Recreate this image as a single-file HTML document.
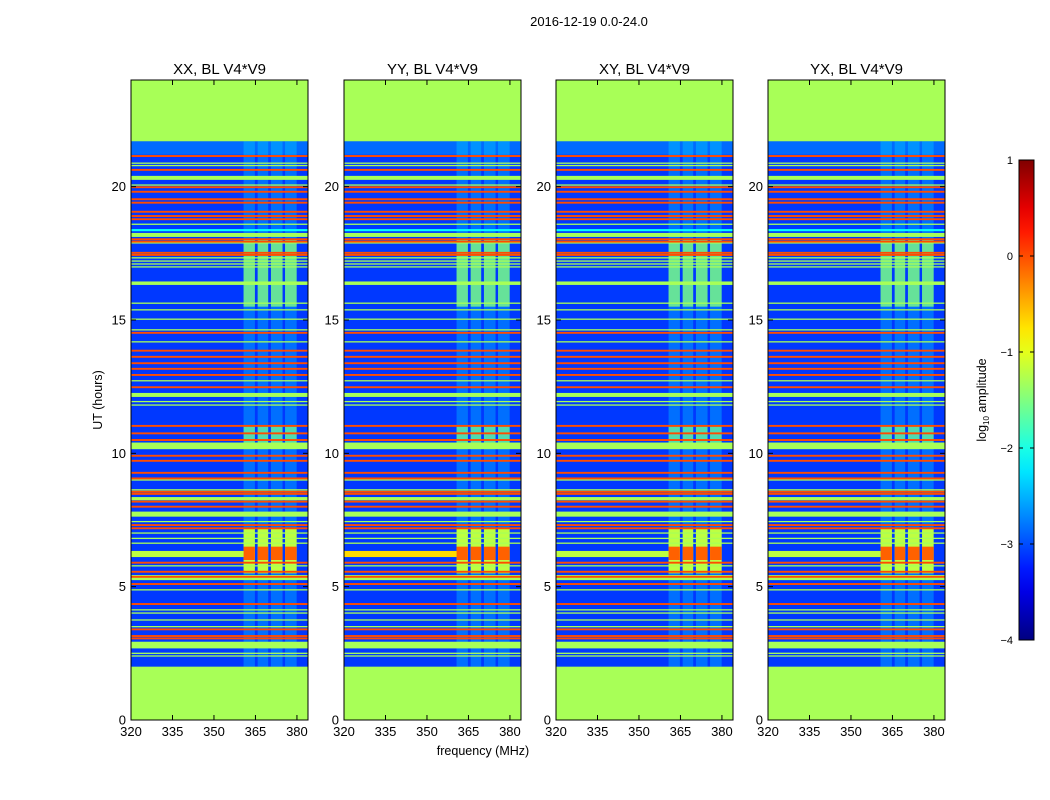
<!DOCTYPE html>
<html><head><meta charset="utf-8"><style>
html,body{margin:0;padding:0;background:#fff;}
svg{display:block;font-family:"Liberation Sans",sans-serif;}
</style></head><body>
<svg id="fig" width="1050" height="800" viewBox="0 0 1050 800">
<text x="589" y="26" font-size="13" text-anchor="middle">2016-12-19 0.0-24.0</text>
<text x="483" y="755" font-size="12.5" text-anchor="middle">frequency (MHz)</text>
<text x="102" y="400" font-size="12.5" text-anchor="middle" transform="rotate(-90 102 400)">UT (hours)</text>
<text x="986" y="400" font-size="12.5" text-anchor="middle" transform="rotate(-90 986 400)">log<tspan font-size="8" dy="3">10</tspan><tspan dy="-3"> amplitude</tspan></text>
<g id="panels"></g>
<g id="cbar"></g>
</svg>
<script>
const panelNames = ["XX, BL V4*V9","YY, BL V4*V9","XY, BL V4*V9","YX, BL V4*V9"];
const panelLeft = [131,344,556,768];
const band6Values = [-1.2,-0.7,-1.2,-1.2];
const xTicks = [320,335,350,365,380];
const yTicks = [0,5,10,15,20];
const cbTicks = [1,0,-1,-2,-3,-4];
const dataStart = 2.0, dataEnd = 21.7;
const backgroundValue = -3.1;
const orangeHours = [21.15,20.63,19.98,19.81,19.53,19.40,19.06,18.9,18.78,18.03,17.94,17.52,17.44,14.52,13.85,13.62,13.38,13.17,12.94,12.48,11.03,10.75,10.5,9.91,9.72,9.27,9.06,8.56,8.48,8.19,8.0,7.31,7.19,5.9,5.56,5.37,5.1,4.35,3.4,3.15,3.06];
const greenHours = [20.88,20.79,20.06,18.59,17.89,17.33,17.21,17.1,16.99,15.63,15.38,15.03,14.63,14.18,12.72,11.94,11.81,9.0,8.63,7.44,7.01,6.81,6.63,5.78,4.88,4.13,4.01,3.75,3.5,2.5,2.4];
const thickCenters = [20.33,18.19,18.37,16.38,12.19,10.28,8.3,7.72,5.34,2.81];
const thickHeights = [0.15,0.15,0.08,0.13,0.15,0.25,0.12,0.19,0.19,0.25];
const thickValues = [-1.3,-1.3,-2.1,-1.3,-1.3,-1.3,-1.3,-1.3,-1.3,-1.3];
const subbandStart = [360.7,365.8,370.6,375.7];
const subbandEnd = [364.8,369.6,374.8,379.9];
const blockStart = [2.0,5.5,6.0,10.3,15.5];
const blockEnd = [21.7,7.2,6.5,11.0,18.0];
const blockValues = [-2.2,-1.2,-0.1,-1.6,-1.5];
const blockOpacity = [0.3,1,1,0.75,0.8];

const NS="http://www.w3.org/2000/svg";
function jet(v){const t=Math.max(0,Math.min(1,(v+4)/5));const c=x=>Math.round(255*Math.max(0,Math.min(1,x)));
return `rgb(${c(1.5-Math.abs(4*t-3))},${c(1.5-Math.abs(4*t-2))},${c(1.5-Math.abs(4*t-1))})`;}
function mk(tag,attrs,parent){const e=document.createElementNS(NS,tag);for(const k in attrs)e.setAttribute(k,attrs[k]);parent.appendChild(e);return e;}
const axTop=80,axBottom=720,W=177;
const yS=h=>axBottom-(h/24)*(axBottom-axTop);
const panelsG=document.getElementById('panels');
panelNames.forEach((nm,i)=>{
  const L=panelLeft[i];
  const xS=f=>L+(f-320)/64*W;
  const g=mk('g',{},panelsG);
  
  
  const bg=mk('rect',{x:L,y:axTop,width:W,height:axBottom-axTop,fill:jet(-1.3)},g);
  
  
  const d=mk('rect',{x:L,y:yS(dataEnd),width:W,height:yS(dataStart)-yS(dataEnd),fill:jet(backgroundValue)},g);
  
  
  const nb=mk('rect',{x:L,y:yS(dataEnd),width:W,height:yS(21.2)-yS(dataEnd),fill:jet(-2.6),opacity:0.5},g);
  
  
  blockStart.forEach((bs,k)=>{subbandStart.forEach((fs,j)=>{
    const r=mk('rect',{x:xS(fs),y:yS(blockEnd[k]),width:xS(subbandEnd[j])-xS(fs),height:yS(bs)-yS(blockEnd[k]),fill:jet(blockValues[k]),opacity:blockOpacity[k]},g);
    
    
  });});
  thickCenters.forEach((c,k)=>{
    const r=mk('rect',{x:L,y:yS(c+thickHeights[k]/2),width:W,height:yS(c-thickHeights[k]/2)-yS(c+thickHeights[k]/2),fill:jet(thickValues[k])},g);
    
    
  });
  greenHours.forEach(h=>{
    const r=mk('rect',{x:L,y:yS(h+0.025),width:W,height:1.3,fill:jet(-1.3)},g);
    
    
  });
  orangeHours.forEach(h=>{
    const r=mk('rect',{x:L,y:yS(h+0.035),width:W,height:1.9,fill:jet(0)},g);
    
    
  });
  const b6=mk('rect',{x:L,y:yS(6.34),width:xS(360.7)-L,height:yS(6.11)-yS(6.34),fill:jet(band6Values[i])},g);
  
  
  const fr=mk('rect',{x:L,y:axTop,width:W,height:axBottom-axTop,fill:'none',stroke:'#000','stroke-width':1},g);
  
  
  const t=mk('text',{x:L+W/2,y:74,'font-size':15,'text-anchor':'middle'},g);t.textContent=nm;
  
  
  xTicks.forEach(v=>{const x=xS(v);
    mk('line',{x1:x,x2:x,y1:axBottom,y2:axBottom-5,stroke:'#000'},g);
    mk('line',{x1:x,x2:x,y1:axTop,y2:axTop+5,stroke:'#000'},g);
    const tl=mk('text',{x:x,y:axBottom+16,'font-size':13,'text-anchor':'middle'},g);tl.textContent=v;
    
    
  });
  yTicks.forEach(v=>{const y=yS(v);
    mk('line',{x1:L,x2:L+5,y1:y,y2:y,stroke:'#000'},g);
    mk('line',{x1:L+W,x2:L+W-5,y1:y,y2:y,stroke:'#000'},g);
    const tl=mk('text',{x:L-5,y:y+4.5,'font-size':13,'text-anchor':'end'},g);tl.textContent=v;
    
    
  });
});
const cb=document.getElementById('cbar');
const defs=mk('defs',{},cb);
const lg=mk('linearGradient',{id:'jetg',x1:0,y1:1,x2:0,y2:0},defs);
for(let k=0;k<=20;k++){mk('stop',{offset:k/20,'stop-color':jet(-4+5*k/20)},lg);}
const cbr=mk('rect',{x:1019,y:160,width:15,height:480,fill:'url(#jetg)',stroke:'#000','stroke-width':1},cb);


const cy=v=>640-(v+4)/5*480;
cbTicks.forEach(v=>{const y=cy(v);
  mk('line',{x1:1019,x2:1023,y1:y,y2:y,stroke:'#000'},cb);
  mk('line',{x1:1030,x2:1034,y1:y,y2:y,stroke:'#000'},cb);
  const tl=mk('text',{x:1013,y:y+4,'font-size':11,'text-anchor':'end'},cb);tl.textContent=(v<0?'\u2212'+(-v):v);
  
  
});
</script>
</body></html>
